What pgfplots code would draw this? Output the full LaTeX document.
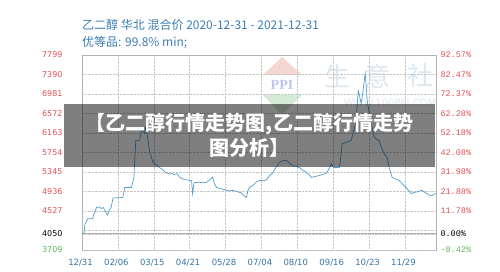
\documentclass[border=0pt]{standalone}
\usepackage{pgfplots}
\pgfplotsset{compat=1.18}
\usepackage{fontspec}
\setmainfont{DejaVu Sans}
\newfontfamily\cjk{Noto Sans CJK SC}
\newfontfamily\monof{Liberation Mono}
\newfontfamily\seriff{Liberation Serif}
\definecolor{lineblue}{RGB}{84,156,206}
\definecolor{titleblue}{RGB}{60,125,180}
\definecolor{tickred}{RGB}{225,80,85}
\definecolor{tickgreen}{RGB}{90,180,90}
\definecolor{xblue}{RGB}{55,115,165}
\definecolor{wmblue}{RGB}{222,230,240}
\definecolor{wmred}{RGB}{246,214,208}
\definecolor{wmgreen}{RGB}{212,234,212}
\begin{document}
\begin{tikzpicture}[x=1pt,y=1pt]
\useasboundingbox (-82,-22) rectangle (418,250);
% watermarks
\fill[wmred] (181,175) -- (220,175) -- (200,193) -- cycle;
\fill[wmgreen] (181,155) -- (220,155) -- (200,135) -- cycle;
\node[text=wmblue!85!blue, font=\seriff\fontsize{14}{14}\selectfont\bfseries] at (200,165) {PPI};
\node[text=wmblue, font=\cjk\fontsize{26}{26}\selectfont] at (255,174) {生};
\node[text=wmblue, font=\cjk\fontsize{26}{26}\selectfont] at (295,174) {意};
\node[text=wmblue, font=\cjk\fontsize{26}{26}\selectfont] at (338,174) {社};
\node[text=wmblue, font=\fontsize{10}{10}\selectfont] at (308,147) {WWW.100PPI.COM};
\begin{axis}[
  at={(0,0)}, anchor=south west,
  scale only axis, width=354pt, height=195pt,
  xmin=0, xmax=365, ymin=3709, ymax=7799,
  axis line style={draw=gray!60, line width=0.6pt},
  major tick length=0pt,
  grid=major, grid style={densely dotted, gray!45, line width=0.4pt},
  xtick={0,37,74,111,148,185,222,259,296,333},
  xticklabels={12/31,02/06,03/15,04/21,05/28,07/04,08/10,09/16,10/23,11/29},
  xticklabel style={font=\fontsize{8.5}{10}\selectfont, text=xblue, yshift=-6pt, xshift=-1.5pt},
  ytick={4527,4936,5345,5754,6163,6572,6981,7390,7799},
  yticklabels={4527,4936,5345,5754,6163,6572,6981,7390,7799},
  yticklabel style={font=\fontsize{8}{10}\selectfont, text=tickred, xshift=-16pt},
  extra y ticks={3709,4050,4118},
  extra y tick labels={\textcolor{tickgreen}{3709},\textcolor{black}{4050},{}},
]
\addplot[gray!65, line width=0.6pt, forget plot] coordinates {(0,4050) (365,4050)};
\addplot[lineblue, line width=0.7pt, mark=none] coordinates {
(0,4050) (2,4050) (3,4250) (6,4363) (11,4363) (12,4450) (15,4600) (18,4610)
(20,4580) (22,4600) (24,4520) (26.5,4440) (28,4550) (30,4600) (32,4800) (42,4810)
(43,4900) (44,5020) (51,5020) (52,5100) (53.5,5230) (55.5,6010) (59.5,6010) (61.5,6250)
(63,6200) (64.5,6160) (65.8,6280) (67,6150) (69.9,5750) (73,5560) (76,5500) (80,5440)
(84,5380) (87,5320) (92,5320) (95,5290) (98,5310) (100.8,5230) (104,5200) (108,5180)
(113,5160) (114,4890) (115.5,5120) (120,5130) (125,5120) (128.5,5130) (131,5170) (134.7,5240)
(136.5,5100) (138.8,5020) (142,5000) (146,4980) (149,4960) (152,4950) (156,4960) (160,4930)
(164,4910) (168,4830) (169.6,4810) (171,4950) (172.7,5020) (176,5060) (180,5140) (183,5170)
(187,5160) (190,5180) (193,5260) (196.4,5320) (200,5440) (203.6,5550) (207,5580) (210.8,5590)
(214,5530) (217,5480) (221,5460) (224,5440) (228,5380) (231,5340) (234,5290) (236.5,5230)
(240,5250) (244.7,5270) (248,5290) (251.9,5320) (255,5420) (257,5520) (258.5,5460) (260,5440)
(265.3,5440) (266.5,5600) (268.3,5940) (272,5960) (277.6,6010) (280,6200) (282.7,6420) (284.8,7050)
(286,6950) (287.9,6780) (289.5,7000) (291,7260) (292,7420) (293,7150) (294.1,6840) (296,6600)
(298.2,6360) (301.3,6070) (304,6030) (306.4,6000) (309,5850) (311.6,5730) (314.6,5650) (316.7,5440)
(319.8,5230) (323,5200) (327,5170) (330,5100) (334.2,5020) (337,4950) (339.4,4890) (342,4920)
(344.5,4920) (347,4940) (350.6,4960) (353,4920) (355.8,4890) (358,4860) (360.9,4850) (363,4880)
(365,4890)
};
\end{axis}
\begin{axis}[
  at={(0,0)}, anchor=south west,
  scale only axis, width=354pt, height=195pt,
  xmin=0, xmax=365, ymin=-8.42, ymax=92.57,
  hide x axis, axis y line*=right, y axis line style={draw=none},
  major tick length=0pt,
  ytick={-8.42,0,11.78,21.88,31.98,42.08,52.18,62.28,72.37,82.47,92.57},
  yticklabels={\textcolor{tickgreen}{-8.42\%},\textcolor{black}{0.00\%},11.78\%,21.88\%,31.98\%,42.08\%,52.18\%,62.28\%,72.37\%,82.47\%,92.57\%},
  yticklabel style={font=\monof\fontsize{8.5}{10}\selectfont, text=tickred, anchor=west, xshift=1pt},
]
\addplot[draw=none, forget plot] coordinates {(0,0)};
\end{axis}
% titles
\node[anchor=west, text=titleblue, font=\cjk\fontsize{12}{13}\selectfont, inner sep=0] at (0,225) {乙二醇 华北 混合价 2020-12-31 - 2021-12-31};
\node[anchor=west, text=titleblue, font=\cjk\fontsize{12}{13}\selectfont, inner sep=0] at (0,207) {优等品: 99.8\% min;};
% banner
\fill[black, opacity=0.5] (-18,83) rectangle (353,146);
\node[text=white, align=center, font=\cjk\bfseries\fontsize{20}{25}\selectfont] at (167.5,114.5) {【乙二醇行情走势图,乙二醇行情走势\\图分析】};
\end{tikzpicture}
\end{document}
